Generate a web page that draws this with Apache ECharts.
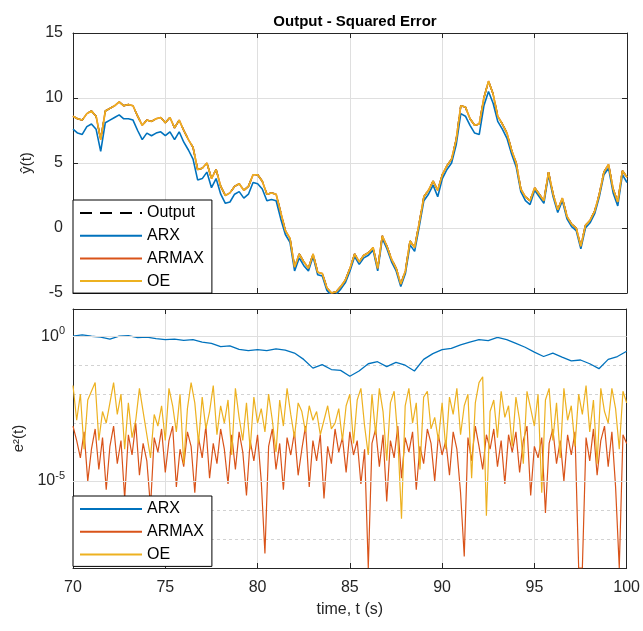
<!DOCTYPE html>
<html>
<head>
<meta charset="utf-8">
<script src="https://cdn.jsdelivr.net/npm/echarts@6/dist/echarts.min.js"></script>
<style>
  html, body { margin: 0; padding: 0; background: #fff; }
  #chart { width: 643px; height: 631px; }
</style>
</head>
<body>
<div id="chart"></div>
<script>
// 时间轴
const tStart = 70;
const dtTop = 0.25;   // top panel sample step (s)
const dtErr = 0.2;    // ARMAX / OE error sample step (s)
const dtArx = 0.5;    // ARX error sample step (s)

// top panel: measured output (ARMAX and OE overlap it) and ARX prediction
const yOut = [
  8.6, 8.4, 8.3, 8.8, 9.0, 8.6, 6.8, 9.0, 9.2, 9.4,
  9.7, 9.4, 9.5, 9.4, 8.6, 7.9, 8.3, 8.2, 8.4, 8.5,
  8.1, 8.5, 7.7, 8.3, 7.5, 6.8, 6.2, 4.5, 4.6, 5.0,
  3.8, 4.5, 3.2, 2.5, 2.7, 3.2, 3.4, 2.9, 3.2, 4.1,
  4.1, 3.6, 2.6, 2.7, 2.6, 1.2, -0.2, -0.8, -3.0, -2.0,
  -2.6, -3.1, -2.0, -3.4, -3.5, -4.6, -5.0, -4.9, -4.5, -4.0,
  -3.1, -2.0, -2.6, -2.1, -1.9, -1.5, -3.1, -0.6, -1.4, -2.4,
  -3.1, -4.3, -3.3, -1.0, -1.5, 0.4, 2.4, 2.9, 3.6, 2.9,
  4.1, 4.8, 5.3, 6.8, 9.4, 9.3, 8.4, 7.9, 8.0, 10.0,
  11.3, 10.3, 8.6, 8.0, 7.3, 6.0, 5.0, 3.0, 2.4, 2.1,
  3.1, 2.6, 2.1, 4.3, 2.6, 1.4, 2.3, 0.9, 0.3, 0.0,
  -1.4, 0.2, 0.6, 1.3, 2.6, 4.3, 4.9, 3.0, 2.0, 4.4,
  3.9
];
const yArx = [
  7.6, 7.3, 7.2, 7.8, 8.0, 7.6, 5.9, 8.1, 8.3, 8.5,
  8.7, 8.4, 8.4, 8.3, 7.5, 6.8, 7.3, 7.1, 7.3, 7.4,
  7.1, 7.4, 6.8, 7.4, 6.6, 6.0, 5.3, 3.7, 3.8, 4.3,
  3.1, 3.8, 2.6, 1.9, 2.0, 2.6, 2.8, 2.3, 2.6, 3.5,
  3.4, 3.0, 2.1, 2.2, 2.1, 0.7, -0.5, -1.1, -3.3, -2.3,
  -2.9, -3.3, -2.2, -3.6, -3.7, -4.8, -5.2, -5.1, -4.7, -4.2,
  -3.3, -2.2, -2.8, -2.3, -2.1, -1.7, -3.3, -0.8, -1.6, -2.6,
  -3.3, -4.5, -3.5, -1.3, -1.8, 0.1, 2.1, 2.6, 3.3, 2.4,
  3.8, 4.5, 5.0, 6.4, 8.8, 8.6, 7.9, 7.3, 7.2, 9.4,
  10.5, 9.6, 8.2, 7.6, 6.9, 5.7, 4.7, 2.8, 2.1, 1.8,
  2.9, 2.4, 1.9, 4.1, 2.4, 1.2, 2.1, 0.7, 0.1, -0.2,
  -1.6, 0.0, 0.4, 1.1, 2.4, 4.1, 4.6, 2.7, 1.7, 4.1,
  3.5
];

// bottom panel: squared error, as log10(e^2)
const logErrArx = [
  0.00, 0.05, 0.00, -0.03, -0.10, 0.00, 0.02, -0.05, -0.03, -0.08,
  -0.12, -0.10, -0.14, -0.12, -0.20, -0.25, -0.36, -0.33, -0.45, -0.50,
  -0.46, -0.50, -0.44, -0.48, -0.58, -0.80, -1.10, -0.98, -1.15, -1.18,
  -1.38, -1.20, -0.95, -0.88, -1.05, -0.90, -1.00, -1.20, -0.80, -0.60,
  -0.46, -0.42, -0.30, -0.20, -0.12, -0.15, -0.04, -0.12, -0.25, -0.38,
  -0.55, -0.70, -0.58, -0.72, -0.85, -0.82, -0.95, -1.12, -0.80, -0.70,
  -0.52
];
const logErrArmax = [
  -3.1, -3.6, -4.2, -3.3, -5.0, -3.9, -3.2, -4.6, -3.5, -5.3,
  -3.8, -3.1, -4.4, -3.6, -5.6, -3.4, -4.1, -3.0, -4.8, -3.7,
  -4.3, -5.9, -3.5, -4.0, -3.2, -4.7, -3.6, -3.1, -5.2, -3.9,
  -4.5, -3.3, -3.8, -5.4, -3.5, -4.2, -3.1, -4.9, -3.7, -4.4,
  -3.2, -3.9, -5.1, -3.4, -4.6, -3.3, -4.0, -5.5, -3.6, -4.3,
  -3.4, -5.0, -7.5, -3.8, -3.2, -4.6, -3.7, -5.3, -3.5, -4.1,
  -3.3, -4.8, -3.9, -3.1, -5.2, -3.6, -4.3, -3.4, -5.6, -3.8,
  -4.4, -3.2, -4.0, -3.5, -4.7, -3.3, -4.1, -3.6, -5.1, -3.9,
  -8.0, -3.7, -3.2, -4.5, -3.4, -5.7, -3.6, -4.2, -3.1, -4.9,
  -3.5, -4.0, -3.3, -5.3, -3.8, -4.4, -3.2, -3.7, -5.0, -3.4,
  -4.1, -3.6, -4.8, -3.3, -3.9, -5.4, -7.6, -3.5, -4.3, -3.1,
  -3.8, -4.6, -3.4, -3.9, -3.2, -4.5, -3.6, -5.1, -3.4, -4.0,
  -3.3, -4.7, -3.6, -3.1, -5.5, -3.8, -4.2, -3.5, -6.1, -3.7,
  -3.2, -4.4, -3.6, -5.0, -3.4, -4.1, -3.3, -8.0, -8.0, -3.5,
  -4.3, -3.2, -4.8, -3.6, -3.1, -4.5, -3.3, -5.2, -8.0, -3.4,
  -3.7
];
const logErrOe = [
  -1.7, -2.9, -2.0, -3.9, -2.2, -1.9, -1.6, -3.6, -2.6, -3.0,
  -2.3, -1.6, -2.7, -2.0, -3.9, -2.3, -3.5, -2.9, -1.8, -2.6,
  -3.4, -4.2, -2.7, -3.1, -2.4, -3.6, -1.8, -2.4, -3.3, -2.0,
  -4.4, -2.5, -1.6, -2.3, -3.7, -2.1, -3.2, -2.6, -1.7, -3.4,
  -2.4, -3.0, -2.2, -4.1, -1.8, -2.8, -3.6, -2.3, -3.9, -2.1,
  -3.0, -2.5, -3.3, -2.0, -2.9, -4.0, -2.2, -3.1, -1.8, -2.7,
  -3.5, -2.3, -2.6, -3.3, -2.4, -2.9, -2.6, -3.4, -2.9, -2.4,
  -3.2, -3.0, -2.5, -3.6, -2.4, -2.0, -3.7, -2.2, -1.8, -3.1,
  -4.1, -2.0, -3.4, -1.8, -2.6, -4.3, -2.3, -1.9, -3.5, -6.3,
  -2.4, -1.8, -3.0, -2.3, -4.6, -2.1, -1.9, -3.2, -2.8, -3.6,
  -2.3, -3.9, -2.1, -2.7, -1.8, -3.4, -2.4, -2.0, -4.9, -2.3,
  -1.6, -1.4, -6.2, -2.6, -2.2, -3.5, -1.9, -2.8, -2.4, -3.8,
  -2.1, -2.9, -4.4, -1.9, -2.5, -3.1, -2.0, -5.4, -2.2, -1.8,
  -3.6, -2.3, -4.2, -1.8, -2.9, -2.4, -3.8, -2.0, -2.7, -1.7,
  -3.3, -2.2, -4.4, -1.8, -2.6, -3.0, -1.8, -2.5, -3.9, -1.9,
  -2.3
];

const seriesNames = ['Output', 'ARX', 'ARMAX', 'OE'];
const colors = {Output: '#000000', ARX: '#0072BD', ARMAX: '#D95319', OE: '#EDB120'};

const FONT = 'Liberation Sans, Arial, Helvetica, sans-serif';
const TXT = '#262626';
const GRID = '#dfdfdf';

const toPairs = (arr, dt) => arr.map((v, i) => [+(tStart + i * dt).toFixed(2), v]);

const frameAxis = (extra) => Object.assign({
  axisLine: {show: true, onZero: false, lineStyle: {color: TXT, width: 1}},
  axisTick: {show: true, inside: true, length: 5, lineStyle: {color: TXT}},
  axisLabel: {show: false},
  splitLine: {show: false}
}, extra);

const chart = echarts.init(document.getElementById('chart'), null, {renderer: 'canvas'});

const logLabel = (v) => {
  if (Math.abs(v) < 1e-9) return '{b|10}{s|0}';
  if (Math.abs(v + 5) < 1e-9) return '{b|10}{s|-5}';
  return '';
};

// legend box shared by both panels (line only, no marker)
const legendBase = {
  orient: 'vertical', left: 73,
  padding: [5, 8, 4, 6], itemGap: 6.7, itemWidth: 62, itemHeight: 16,
  backgroundColor: '#fff', borderColor: '#000', borderWidth: 1, borderRadius: 0,
  itemStyle: {opacity: 0, borderWidth: 0},
  textStyle: {fontFamily: FONT, fontSize: 16, color: '#000'},
  selectedMode: false
};

const option = {
  backgroundColor: '#fff',
  animation: false,
  textStyle: {fontFamily: FONT},
  title: {
    text: 'Output - Squared Error',
    left: 350,
    textAlign: 'center',
    top: 9,
    textStyle: {fontFamily: FONT, fontSize: 15, fontWeight: 'bold', color: '#000'}
  },
  grid: [
    {left: 73, right: 16, top: 33, height: 260},
    {left: 73, right: 16, top: 309, height: 259}
  ],
  xAxis: [
    {
      gridIndex: 0, type: 'value', min: 70, max: 100, interval: 5,
      axisLine: {show: true, onZero: false, lineStyle: {color: TXT}},
      axisTick: {show: true, inside: true, length: 5, lineStyle: {color: TXT}},
      axisLabel: {show: false},
      splitLine: {show: true, lineStyle: {color: GRID, width: 1}}
    },
    frameAxis({gridIndex: 0, type: 'value', position: 'top', min: 70, max: 100, interval: 5}),
    {
      gridIndex: 1, type: 'value', min: 70, max: 100, interval: 5,
      name: 'time, t (s)', nameLocation: 'middle', nameGap: 34,
      nameTextStyle: {fontFamily: FONT, fontSize: 16, color: TXT},
      axisLine: {show: true, onZero: false, lineStyle: {color: TXT}},
      axisTick: {show: true, inside: true, length: 5, lineStyle: {color: TXT}},
      axisLabel: {show: true, fontFamily: FONT, fontSize: 16, color: TXT, margin: 12},
      splitLine: {show: true, lineStyle: {color: GRID, width: 1}}
    },
    frameAxis({gridIndex: 1, type: 'value', position: 'top', min: 70, max: 100, interval: 5})
  ],
  yAxis: [
    {
      gridIndex: 0, type: 'value', min: -5, max: 15, interval: 5,
      name: 'ŷ(t)', nameLocation: 'middle', nameGap: 32, nameRotate: 90,
      nameTextStyle: {fontFamily: FONT, fontSize: 15, color: TXT},
      axisLine: {show: true, onZero: false, lineStyle: {color: TXT}},
      axisTick: {show: true, inside: true, length: 5, lineStyle: {color: TXT}},
      axisLabel: {show: true, fontFamily: FONT, fontSize: 16, color: TXT, margin: 10},
      splitLine: {show: true, lineStyle: {color: GRID, width: 1}}
    },
    frameAxis({gridIndex: 0, type: 'value', position: 'right', min: -5, max: 15, interval: 5}),
    {
      gridIndex: 1, type: 'value', min: -8, max: 0.94, interval: 1,
      name: 'e²(t)', nameLocation: 'middle', nameGap: 32, nameRotate: 90,
      nameTextStyle: {fontFamily: FONT, fontSize: 15, color: TXT},
      axisLine: {show: true, onZero: false, lineStyle: {color: TXT}},
      axisTick: {show: false},
      axisLabel: {
        show: true, margin: 8, formatter: logLabel,
        rich: {
          b: {fontFamily: FONT, fontSize: 16, color: TXT},
          s: {fontFamily: FONT, fontSize: 11, color: TXT, padding: [0, 0, 10, 0]}
        }
      },
      splitLine: {show: true, lineStyle: {color: '#d2d2d2', width: 1, type: [3, 3]}}
    },
    frameAxis({gridIndex: 1, type: 'value', position: 'right', min: -8, max: 0.94, interval: 1, axisTick: {show: false}})
  ],
  legend: [
    Object.assign({}, legendBase, {data: seriesNames, top: 200}),
    Object.assign({}, legendBase, {data: ['ARX', 'ARMAX', 'OE'], top: 496})
  ],
  series: [
    // top panel
    {name: 'Output', type: 'line', xAxisIndex: 0, yAxisIndex: 0, data: toPairs(yOut, dtTop),
      symbol: 'none', lineStyle: {color: colors.Output, width: 1.5, type: [12, 8]}, itemStyle: {color: colors.Output}},
    {name: 'ARX', type: 'line', xAxisIndex: 0, yAxisIndex: 0, data: toPairs(yArx, dtTop),
      symbol: 'none', lineStyle: {color: colors.ARX, width: 1.6}, itemStyle: {color: colors.ARX}},
    {name: 'ARMAX', type: 'line', xAxisIndex: 0, yAxisIndex: 0, data: toPairs(yOut, dtTop),
      symbol: 'none', lineStyle: {color: colors.ARMAX, width: 1.6}, itemStyle: {color: colors.ARMAX}},
    {name: 'OE', type: 'line', xAxisIndex: 0, yAxisIndex: 0, data: toPairs(yOut, dtTop),
      symbol: 'none', lineStyle: {color: colors.OE, width: 1.6}, itemStyle: {color: colors.OE}},
    // bottom panel: solid major grid lines at 10^0 and 10^-5
    {name: 'grid-major', type: 'line', xAxisIndex: 2, yAxisIndex: 2, data: [], z: 1,
      markLine: {silent: true, symbol: 'none', label: {show: false},
        lineStyle: {color: GRID, type: 'solid', width: 1},
        data: [{yAxis: 0}, {yAxis: -5}]}},
    {name: 'ARX', type: 'line', xAxisIndex: 2, yAxisIndex: 2, data: toPairs(logErrArx, dtArx),
      symbol: 'none', lineStyle: {color: colors.ARX, width: 1.3}, itemStyle: {color: colors.ARX}},
    {name: 'ARMAX', type: 'line', xAxisIndex: 2, yAxisIndex: 2, data: toPairs(logErrArmax, dtErr),
      symbol: 'none', lineStyle: {color: colors.ARMAX, width: 1.2}, itemStyle: {color: colors.ARMAX}},
    {name: 'OE', type: 'line', xAxisIndex: 2, yAxisIndex: 2, data: toPairs(logErrOe, dtErr),
      symbol: 'none', lineStyle: {color: colors.OE, width: 1.2}, itemStyle: {color: colors.OE}}
  ]
};

chart.setOption(option);
</script>
</body>
</html>
